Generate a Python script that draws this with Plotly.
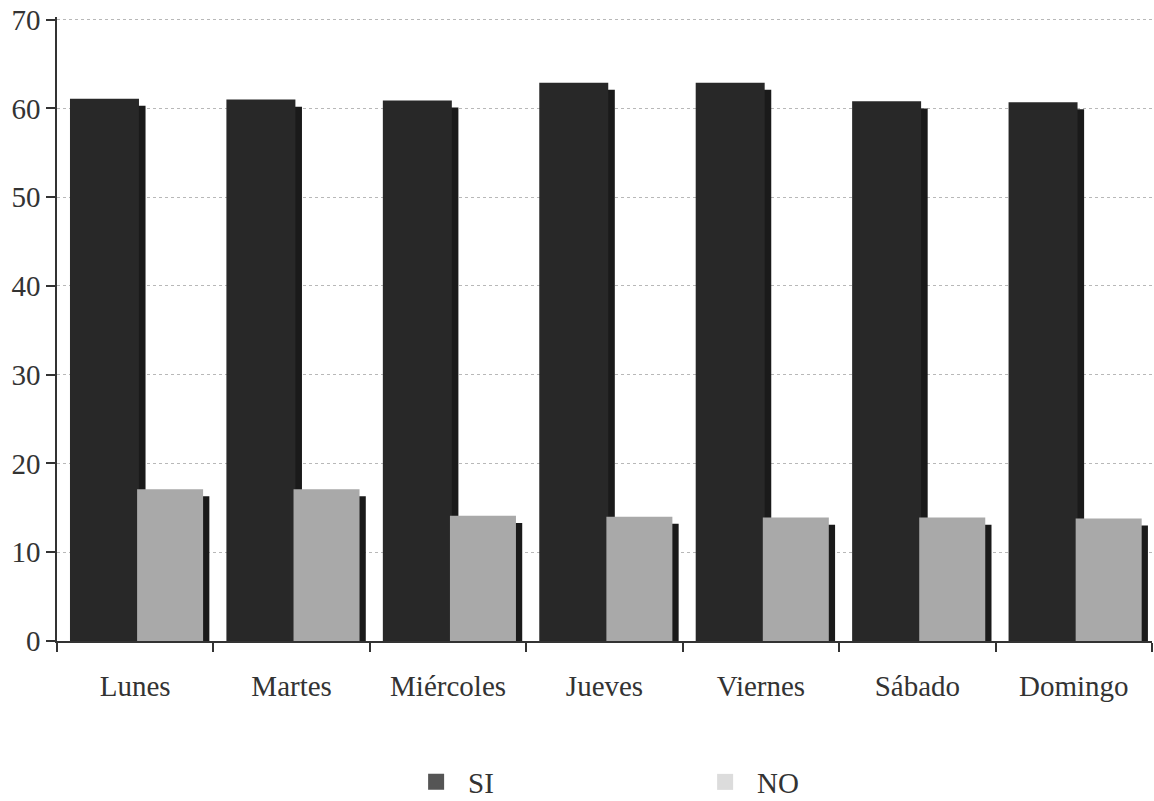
import plotly.graph_objects as go

dias = ["Lunes", "Martes", "Miércoles", "Jueves", "Viernes", "Sábado", "Domingo"]
si_vals = [61.1, 61.0, 60.9, 62.9, 62.9, 60.8, 60.7]
no_vals = [17.1, 17.1, 14.1, 14.0, 13.9, 13.9, 13.8]
y_ticks = [0, 10, 20, 30, 40, 50, 60, 70]

SHADOW_DROP = 0.8
FONT = "Liberation Serif, Times New Roman, serif"
TXT = "#333333"

fig = go.Figure()

# SI shadow + bar
fig.add_bar(x=dias, y=[v - SHADOW_DROP for v in si_vals], offset=-0.375, width=0.441,
            marker=dict(color="#1a1a1a", line=dict(width=0)), showlegend=False, hoverinfo="skip")
fig.add_bar(x=dias, y=si_vals, offset=-0.417, width=0.441, name="SI",
            marker=dict(color="#282828", line=dict(width=0)), showlegend=False)
# NO shadow + bar
fig.add_bar(x=dias, y=[v - SHADOW_DROP for v in no_vals], offset=0.052, width=0.422,
            marker=dict(color="#1a1a1a", line=dict(width=0)), showlegend=False, hoverinfo="skip")
fig.add_bar(x=dias, y=no_vals, offset=0.012, width=0.422, name="NO",
            marker=dict(color="#a9a9a9", line=dict(width=0)), showlegend=False)

# legend entries
fig.add_scatter(x=[None], y=[None], mode="markers", name="SI",
                marker=dict(symbol="square", size=18, color="#555555"))
fig.add_scatter(x=[None], y=[None], mode="markers", name="NO",
                marker=dict(symbol="square", size=18, color="#dcdcdc"))

fig.update_layout(
    width=1154, height=801,
    barmode="overlay",
    paper_bgcolor="white", plot_bgcolor="white",
    margin=dict(l=57, r=2, t=17, b=160, autoexpand=False),
    font=dict(family=FONT, size=29, color=TXT),
    showlegend=True,
    legend=dict(orientation="h", x=0.317, xanchor="left", y=-0.226, yanchor="middle",
                entrywidth=220, entrywidthmode="pixels", itemwidth=54,
                font=dict(family=FONT, size=29, color=TXT),
                bgcolor="rgba(0,0,0,0)", itemclick=False),
    xaxis=dict(type="category", categoryorder="array", categoryarray=dias,
               showline=True, linecolor="#333333", linewidth=1.5, automargin=False,
               ticks="outside", tickson="boundaries", ticklen=9, tickcolor="#333333",
               tickwidth=1.5, showgrid=False, ticklabelstandoff=18,
               tickfont=dict(family=FONT, size=29, color=TXT)),
    yaxis=dict(range=[0, 70.3], tickvals=y_ticks, showline=True, linecolor="#333333",
               linewidth=1.5, ticks="outside", ticklen=9, tickcolor="#333333", tickwidth=1.5,
               showgrid=True, gridcolor="#b8b8b8", griddash="dot", gridwidth=1,
               automargin=False, zeroline=False,
               tickfont=dict(family=FONT, size=29, color=TXT)),
)

fig.write_html("out.html")
